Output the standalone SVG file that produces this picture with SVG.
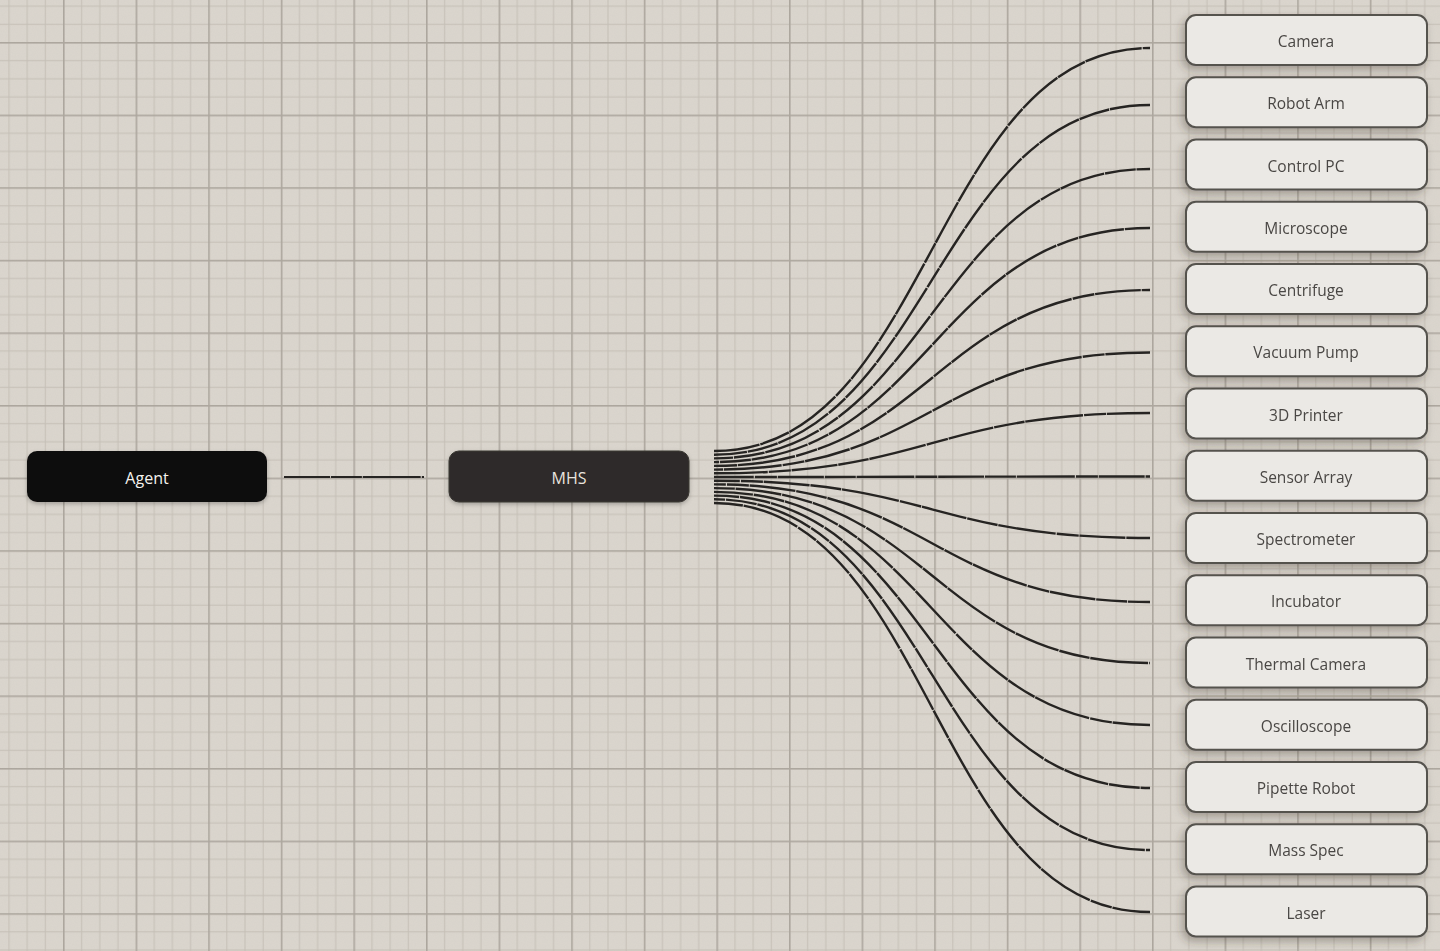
<svg xmlns="http://www.w3.org/2000/svg" width="1440" height="951" viewBox="0 0 1440 951">
<defs>
<pattern id="grid" patternUnits="userSpaceOnUse" x="-9.6" y="-30.6" width="72.6" height="72.6">
<rect width="72.6" height="72.6" fill="#dbd6ce"/>
<rect x="18.15" y="0" width="1" height="72.6" fill="#c6c0b7"/>
<rect x="36.3" y="0" width="1" height="72.6" fill="#c6c0b7"/>
<rect x="54.45" y="0" width="1" height="72.6" fill="#c6c0b7"/>
<rect x="0" y="18.15" width="72.6" height="1" fill="#c6c0b7"/>
<rect x="0" y="36.3" width="72.6" height="1" fill="#c6c0b7"/>
<rect x="0" y="54.45" width="72.6" height="1" fill="#c6c0b7"/>
<rect x="0" y="0" width="1.6" height="72.6" fill="#aca69d"/>
<rect x="0" y="0" width="72.6" height="1.6" fill="#aca69d"/>
</pattern>
<filter id="noise" x="0" y="0" width="100%" height="100%">
<feTurbulence type="fractalNoise" baseFrequency="0.9" numOctaves="2" seed="3" result="n"/>
<feColorMatrix type="matrix" values="0 0 0 0 0.5  0 0 0 0 0.48  0 0 0 0 0.45  0 0 0 0.18 0"/>
</filter>
<filter id="shadow" x="-20%" y="-40%" width="140%" height="190%">
<feDropShadow dx="-3" dy="4" stdDeviation="4" flood-color="#3a342c" flood-opacity="0.35"/>
</filter>
<filter id="shadowDark" x="-20%" y="-40%" width="140%" height="190%">
<feDropShadow dx="0" dy="2" stdDeviation="2" flood-color="#000" flood-opacity="0.25"/>
</filter>
<style>
.device rect { fill: #ebe9e5; stroke: #55524e; stroke-width: 2; }
.device text { font-family: "Open Sans", "Noto Sans", "DejaVu Sans", sans-serif; font-size: 15.5px; fill: #4a4744; text-anchor: middle; dominant-baseline: central; }
.dark text { font-family: "Open Sans", "Noto Sans", "DejaVu Sans", sans-serif; font-size: 16px; text-anchor: middle; dominant-baseline: central; }
#connectors path, #connectors line { fill: none; stroke: #262422; stroke-width: 2.4; stroke-linecap: butt; stroke-dasharray: 46 0.9 31 0.8 58 1.1 22 0.8; }
</style>
</defs>
<rect width="1440" height="951" fill="url(#grid)"/>
<rect width="1440" height="951" filter="url(#noise)" opacity="0.6"/>

<g id="connectors">
<line x1="284" y1="477" x2="424" y2="477" style="stroke-width:2"/>
<path d="M714,451 C932,451 932,48 1150,48" stroke-dashoffset="0"/>
<path d="M714,454.7 C932,454.7 932,105 1150,105" stroke-dashoffset="13"/>
<path d="M714,458.4 C932,458.4 932,169 1150,169" stroke-dashoffset="27"/>
<path d="M714,462.1 C932,462.1 932,228 1150,228" stroke-dashoffset="41"/>
<path d="M714,465.9 C932,465.9 932,290 1150,290" stroke-dashoffset="55"/>
<path d="M714,469.6 C932,469.6 932,352.5 1150,352.5" stroke-dashoffset="69"/>
<path d="M714,473.3 C932,473.3 932,413 1150,413" stroke-dashoffset="83"/>
<path d="M714,477 C932,477 932,476.5 1150,476.5" stroke-dashoffset="97"/>
<path d="M714,480.7 C932,480.7 932,538 1150,538" stroke-dashoffset="111"/>
<path d="M714,484.4 C932,484.4 932,602 1150,602" stroke-dashoffset="125"/>
<path d="M714,488.1 C932,488.1 932,663 1150,663" stroke-dashoffset="139"/>
<path d="M714,491.9 C932,491.9 932,725 1150,725" stroke-dashoffset="7"/>
<path d="M714,495.6 C932,495.6 932,788 1150,788" stroke-dashoffset="21"/>
<path d="M714,499.3 C932,499.3 932,850 1150,850" stroke-dashoffset="35"/>
<path d="M714,503 C932,503 932,912 1150,912" stroke-dashoffset="49"/>
</g>

<g id="agent" class="dark">
<rect x="27" y="451" width="240" height="51" rx="10" fill="#0b0a0a" filter="url(#shadowDark)"/>
<text x="147" y="478" fill="#f4f2ee">Agent</text>
</g>
<g id="mhs" class="dark">
<rect x="449" y="451" width="240" height="51" rx="10" fill="#2f2c29" stroke="#3a3733" stroke-width="1" filter="url(#shadowDark)"/>
<text x="569" y="478" fill="#e8e4de">MHS</text>
</g>

<g id="camera" class="device" filter="url(#shadow)"><rect x="1186" y="15" width="241" height="50" rx="10"/><text x="1306" y="41">Camera</text></g>
<g id="robot-arm" class="device" filter="url(#shadow)"><rect x="1186" y="77.25" width="241" height="50" rx="10"/><text x="1306" y="103.25">Robot Arm</text></g>
<g id="control-pc" class="device" filter="url(#shadow)"><rect x="1186" y="139.5" width="241" height="50" rx="10"/><text x="1306" y="165.5">Control PC</text></g>
<g id="microscope" class="device" filter="url(#shadow)"><rect x="1186" y="201.75" width="241" height="50" rx="10"/><text x="1306" y="227.75">Microscope</text></g>
<g id="centrifuge" class="device" filter="url(#shadow)"><rect x="1186" y="264" width="241" height="50" rx="10"/><text x="1306" y="290">Centrifuge</text></g>
<g id="vacuum-pump" class="device" filter="url(#shadow)"><rect x="1186" y="326.25" width="241" height="50" rx="10"/><text x="1306" y="352.25">Vacuum Pump</text></g>
<g id="3d-printer" class="device" filter="url(#shadow)"><rect x="1186" y="388.5" width="241" height="50" rx="10"/><text x="1306" y="414.5">3D Printer</text></g>
<g id="sensor-array" class="device" filter="url(#shadow)"><rect x="1186" y="450.75" width="241" height="50" rx="10"/><text x="1306" y="476.75">Sensor Array</text></g>
<g id="spectrometer" class="device" filter="url(#shadow)"><rect x="1186" y="513" width="241" height="50" rx="10"/><text x="1306" y="539">Spectrometer</text></g>
<g id="incubator" class="device" filter="url(#shadow)"><rect x="1186" y="575.25" width="241" height="50" rx="10"/><text x="1306" y="601.25">Incubator</text></g>
<g id="thermal-camera" class="device" filter="url(#shadow)"><rect x="1186" y="637.5" width="241" height="50" rx="10"/><text x="1306" y="663.5">Thermal Camera</text></g>
<g id="oscilloscope" class="device" filter="url(#shadow)"><rect x="1186" y="699.75" width="241" height="50" rx="10"/><text x="1306" y="725.75">Oscilloscope</text></g>
<g id="pipette-robot" class="device" filter="url(#shadow)"><rect x="1186" y="762" width="241" height="50" rx="10"/><text x="1306" y="788">Pipette Robot</text></g>
<g id="mass-spec" class="device" filter="url(#shadow)"><rect x="1186" y="824.25" width="241" height="50" rx="10"/><text x="1306" y="850.25">Mass Spec</text></g>
<g id="laser" class="device" filter="url(#shadow)"><rect x="1186" y="886.5" width="241" height="50" rx="10"/><text x="1306" y="912.5">Laser</text></g>
</svg>
